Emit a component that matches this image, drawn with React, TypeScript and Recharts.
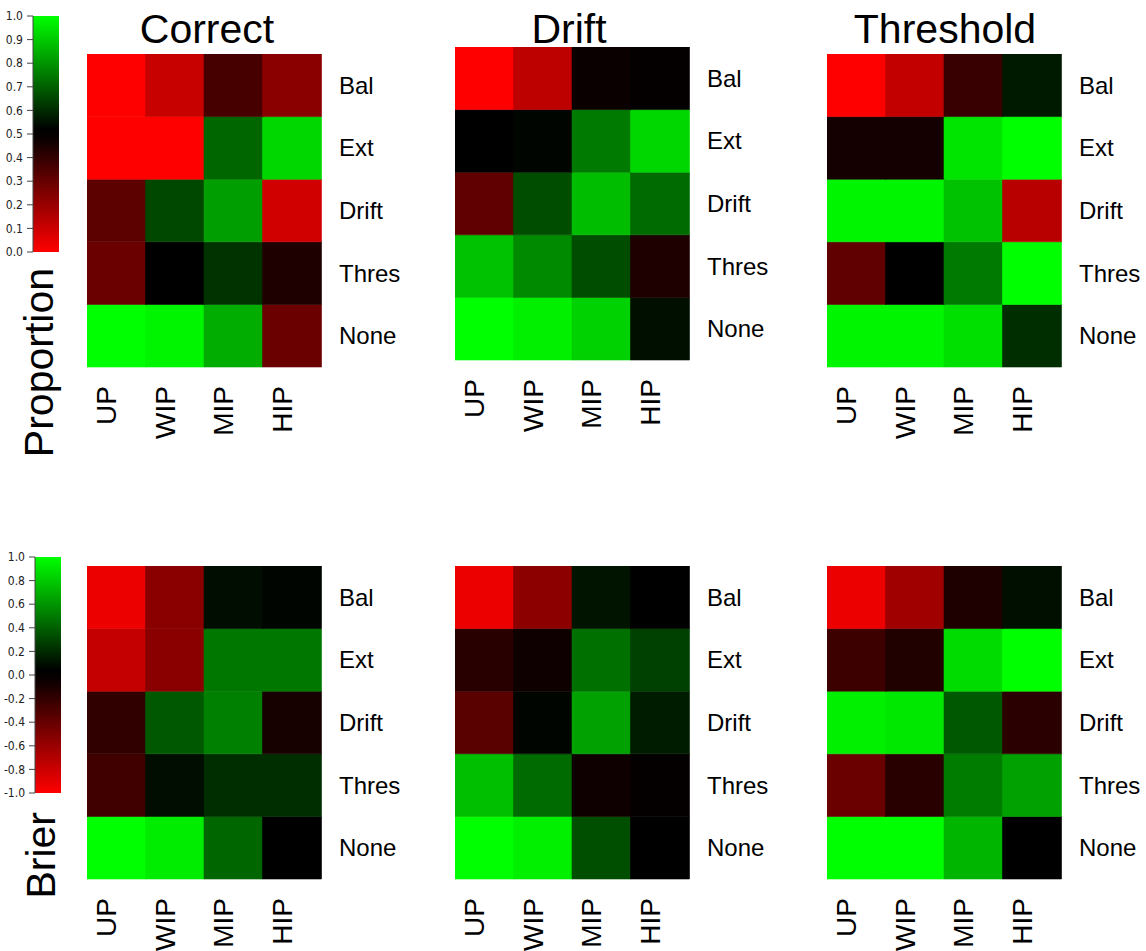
import { BarChart, Bar, XAxis, YAxis, Cell } from "recharts";

const COLUMNS = ["UP", "WIP", "MIP", "HIP"];
const ROWS = ["Bal", "Ext", "Drift", "Thres", "None"];
const ROW_TICKS = [0.5, 1.5, 2.5, 3.5, 4.5];

const PROP_TICKS = [0, 0.1, 0.2, 0.3, 0.4, 0.5, 0.6, 0.7, 0.8, 0.9, 1];
const BRIER_TICKS = [-1, -0.8, -0.6, -0.4, -0.2, 0, 0.2, 0.4, 0.6, 0.8, 1];

// rows top->bottom (Bal..None), columns UP, WIP, MIP, HIP
const propCorrect = [
  [0.0, 0.11, 0.36, 0.23],
  [0.0, 0.0, 0.7, 0.92],
  [0.32, 0.64, 0.81, 0.09],
  [0.29, 0.5, 0.6, 0.44],
  [1.0, 0.98, 0.84, 0.29],
];
const propDrift = [
  [0.0, 0.13, 0.48, 0.49],
  [0.5, 0.51, 0.74, 0.92],
  [0.31, 0.65, 0.87, 0.71],
  [0.88, 0.77, 0.65, 0.44],
  [1.0, 0.97, 0.91, 0.53],
];
const propThreshold = [
  [0.0, 0.12, 0.39, 0.55],
  [0.46, 0.46, 0.95, 1.0],
  [0.98, 0.98, 0.88, 0.14],
  [0.31, 0.5, 0.74, 1.0],
  [0.98, 0.98, 0.94, 0.59],
];

const brierCorrect = [
  [-0.93, -0.54, 0.05, 0.02],
  [-0.77, -0.54, 0.47, 0.47],
  [-0.19, 0.35, 0.5, -0.09],
  [-0.25, 0.05, 0.18, 0.18],
  [1.0, 0.93, 0.4, 0.0],
];
const brierDrift = [
  [-0.93, -0.55, 0.08, 0.0],
  [-0.16, -0.06, 0.44, 0.25],
  [-0.35, 0.02, 0.63, 0.11],
  [0.75, 0.42, -0.06, -0.02],
  [1.0, 0.94, 0.31, 0.0],
];
const brierThreshold = [
  [-0.93, -0.63, -0.12, 0.06],
  [-0.24, -0.13, 0.86, 1.0],
  [0.94, 0.91, 0.35, -0.17],
  [-0.42, -0.16, 0.49, 0.63],
  [1.0, 1.0, 0.71, 0.0],
];

const FONT = '"Liberation Sans", Arial, Helvetica, sans-serif';
const NARROW = '"Liberation Sans Narrow", "DejaVu Sans Condensed", "Liberation Sans", sans-serif';

const PLOT_W = 234;
const PLOT_H = 313;
const LABEL_W = 85;
const AXIS_H = 84;

const rgb = (r: number, g: number) => `rgb(${Math.round(r)},${Math.round(g)},0)`;

// red -> black -> green
const propColor = (v: number) =>
  v < 0.5 ? rgb(((0.5 - v) / 0.5) * 255, 0) : rgb(0, ((v - 0.5) / 0.5) * 255);
const brierColor = (v: number) => (v < 0 ? rgb(-v * 255, 0) : rgb(0, v * 255));

// each cell is one unit of a stacked bar; colour carries the value
const gridData = COLUMNS.map((col) => {
  const d: Record<string, string | number> = { col };
  ROWS.forEach((r) => (d[r] = 1));
  return d;
});

const ColTick = (props: any) => {
  const { x, y, payload } = props;
  return (
    <text
      x={x}
      y={y}
      transform={`rotate(-90 ${x} ${y})`}
      textAnchor="end"
      fontSize={28}
      fontFamily={FONT}
      fill="#000"
    >
      {payload.value}
    </text>
  );
};

interface HeatmapProps {
  values: number[][];
  color: (v: number) => string;
  left: number;
  top: number;
}

const Heatmap = ({ values, color, left, top }: HeatmapProps) => (
  <div style={{ position: "absolute", left, top }}>
    <BarChart
      width={PLOT_W + LABEL_W}
      height={PLOT_H + AXIS_H}
      data={gridData}
      margin={{ top: 0, right: 0, bottom: 0, left: 0 }}
      barCategoryGap={0}
      barGap={0}
    >
      <XAxis
        dataKey="col"
        interval={0}
        axisLine={false}
        tickLine={false}
        tickSize={0}
        tickMargin={19}
        height={AXIS_H}
        tick={(p: any) => <ColTick {...p} />}
      />
      <YAxis
        orientation="right"
        type="number"
        domain={[0, 5]}
        ticks={ROW_TICKS}
        interval={0}
        width={LABEL_W}
        axisLine={false}
        tickLine={false}
        tickSize={0}
        tickMargin={18}
        tickFormatter={(v: number) => ROWS[ROWS.length - 1 - Math.floor(v)]}
        tick={{ fontSize: 24, fill: "#000", fontFamily: FONT }}
      />
      {[...ROWS].reverse().map((row) => {
        const i = ROWS.indexOf(row);
        return (
          <Bar key={row} dataKey={row} stackId="grid" isAnimationActive={false}>
            {COLUMNS.map((c, j) => (
              <Cell
                key={c}
                fill={color(values[i][j])}
                stroke={color(values[i][j])}
                strokeWidth={0.6}
              />
            ))}
          </Bar>
        );
      })}
    </BarChart>
  </div>
);

interface ColorBarProps {
  top: number;
  axisWidth: number;
  ticks: number[];
  range: [number, number];
  gradId: string;
}

const ColorBar = ({ top, axisWidth, ticks, range, gradId }: ColorBarProps) => (
  <div style={{ position: "absolute", left: 0, top: top - 16 }}>
    <BarChart
      width={axisWidth + 26}
      height={16 + 236 + 12}
      data={[{ name: "scale", span: range }]}
      margin={{ top: 16, right: 0, bottom: 12, left: 0 }}
      barCategoryGap={0}
    >
      <defs>
        <linearGradient id={gradId} x1="0" y1="0" x2="0" y2="1">
          <stop offset="0%" stopColor="#00ff00" />
          <stop offset="48%" stopColor="#000000" />
          <stop offset="52%" stopColor="#0a0000" />
          <stop offset="100%" stopColor="#ff0000" />
        </linearGradient>
      </defs>
      <XAxis dataKey="name" hide />
      <YAxis
        type="number"
        domain={range}
        ticks={ticks}
        interval={0}
        width={axisWidth}
        tickSize={6}
        tickMargin={4}
        stroke="#444"
        tickFormatter={(v: number) => v.toFixed(1)}
        tick={{ fontSize: 12, fill: "#222", fontFamily: NARROW }}
      />
      <Bar dataKey="span" fill={`url(#${gradId})`} isAnimationActive={false} />
    </BarChart>
  </div>
);

export default function App() {
  return (
    <div
      style={{
        position: "absolute",
        left: 0,
        top: 0,
        width: 1146,
        height: 951,
        overflow: "hidden",
        background: "#fff",
      }}
    >
      <ColorBar top={16} axisWidth={33} ticks={PROP_TICKS} range={[0, 1]} gradId="gradProp" />
      <ColorBar top={557} axisWidth={35} ticks={BRIER_TICKS} range={[-1, 1]} gradId="gradBrier" />

      <Heatmap values={propCorrect} color={propColor} left={87} top={54} />
      <Heatmap values={propDrift} color={propColor} left={455} top={47} />
      <Heatmap values={propThreshold} color={propColor} left={827} top={54} />

      <Heatmap values={brierCorrect} color={brierColor} left={87} top={566} />
      <Heatmap values={brierDrift} color={brierColor} left={455} top={566} />
      <Heatmap values={brierThreshold} color={brierColor} left={827} top={566} />

      <svg
        width={1146}
        height={951}
        style={{ position: "absolute", left: 0, top: 0, pointerEvents: "none" }}
        fontFamily={FONT}
        fill="#000"
      >
        <text x={207} y={43} fontSize={41} textAnchor="middle">Correct</text>
        <text x={569} y={43} fontSize={41} textAnchor="middle">Drift</text>
        <text x={945} y={43} fontSize={41} textAnchor="middle">Threshold</text>
        <text x={53} y={268} fontSize={41} textAnchor="end" transform="rotate(-90 53 268)">
          Proportion
        </text>
        <text x={55} y={812} fontSize={41} textAnchor="end" transform="rotate(-90 55 812)">
          Brier
        </text>
      </svg>
    </div>
  );
}
